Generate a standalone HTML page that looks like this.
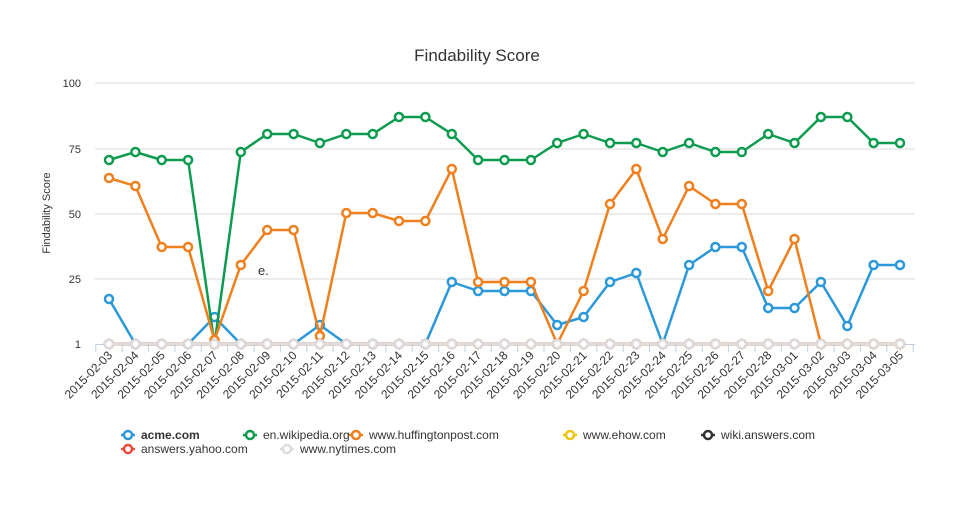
<!DOCTYPE html>
<html><head><meta charset="utf-8"><style>
body{margin:0;background:#fff;width:955px;height:502px;overflow:hidden;font-family:"Liberation Sans",sans-serif}
</style></head><body>
<svg id="s" width="955" height="502" xmlns="http://www.w3.org/2000/svg" font-family="Liberation Sans, sans-serif"></svg>
<script>
const s=document.getElementById('s');let h='';
h+='<text x="477" y="61" text-anchor="middle" font-size="17" fill="#333">Findability Score</text>';
h+='<text transform="translate(50,213) rotate(-90)" text-anchor="middle" font-size="11" fill="#333">Findability Score</text>';
const gl=[[83,'100'],[149,'75'],[214,'50'],[279,'25']];
gl.forEach(g=>{h+=`<line x1="95" x2="915" y1="${g[0]}" y2="${g[0]}" stroke="#d8d8d8"/><text x="81" y="${g[0]+4}" text-anchor="end" font-size="11" fill="#333">${g[1]}</text>`});
h+=`<text x="81" y="348" text-anchor="end" font-size="11" fill="#333">1</text>`;
h+='<line x1="95" x2="915" y1="344.5" y2="344.5" stroke="#c0d0e0"/>';
const x0=109,dx=(900-109)/30;
const dates=[];for(let d=3;d<=28;d++)dates.push('2015-02-'+String(d).padStart(2,'0'));for(let d=1;d<=5;d++)dates.push('2015-03-0'+d);
for(let i=0;i<=31;i++){const x=x0-dx/2+i*dx;h+=`<line x1="${x}" x2="${x}" y1="344" y2="352" stroke="#c0d0e0"/>`}
dates.forEach((d,i)=>{const x=x0+i*dx;h+=`<text transform="translate(${x+4},356) rotate(-45)" text-anchor="end" font-size="12" fill="#333">${d}</text>`});
const line=(ys,c)=>{let p=ys.map((y,i)=>(x0+i*dx).toFixed(1)+','+y).join(' ');h+=`<polyline points="${p}" fill="none" stroke="${c}" stroke-width="2.5" stroke-linejoin="round"/>`;ys.forEach((y,i)=>{h+=`<circle cx="${(x0+i*dx).toFixed(1)}" cy="${y}" r="4" fill="#fff" stroke="${c}" stroke-width="2.5"/>`})};
const base=Array(31).fill(344);
const acme=[299,344,344,344,317,344,344,344,325,344,344,344,344,282,291,291,291,325,317,282,273,344,265,247,247,308,308,282,326,265,265];
const wiki=[160,152,160,160,344,152,134,134,143,134,134,117,117,134,160,160,160,143,134,143,143,152,143,152,152,134,143,117,117,143,143];
const huff=[178,186,247,247,340,265,230,230,336,213,213,221,221,169,282,282,282,344,291,204,169,239,186,204,204,291,239,344,344,344,344];
line(acme,'#2b98d9');line(wiki,'#0d9c4f');line(huff,'#f07f1d');
line(base,'#f1c40f');line(base,'#333');line(base,'#e84c3d');
line(base,'#dddddd');
h+='<text x="258" y="275" font-size="13" fill="#333">e.</text>';
const leg=[[128,435,'#2b98d9','acme.com',1],[250,435,'#0d9c4f','en.wikipedia.org',0],[356,435,'#f07f1d','www.huffingtonpost.com',0],[570,435,'#f1c40f','www.ehow.com',0],[708,435,'#333','wiki.answers.com',0],[128,449,'#e84c3d','answers.yahoo.com',0],[287,449,'#dddddd','www.nytimes.com',0]];
leg.forEach(l=>{h+=`<line x1="${l[0]-7}" x2="${l[0]+7}" y1="${l[1]}" y2="${l[1]}" stroke="${l[2]}" stroke-width="2.5"/><circle cx="${l[0]}" cy="${l[1]}" r="4" fill="#fff" stroke="${l[2]}" stroke-width="2.5"/><text x="${l[0]+13}" y="${l[1]+4}" font-size="12" fill="#333" ${l[4]?'font-weight="bold"':''}>${l[3]}</text>`});
s.innerHTML=h;
</script>
</body></html>
